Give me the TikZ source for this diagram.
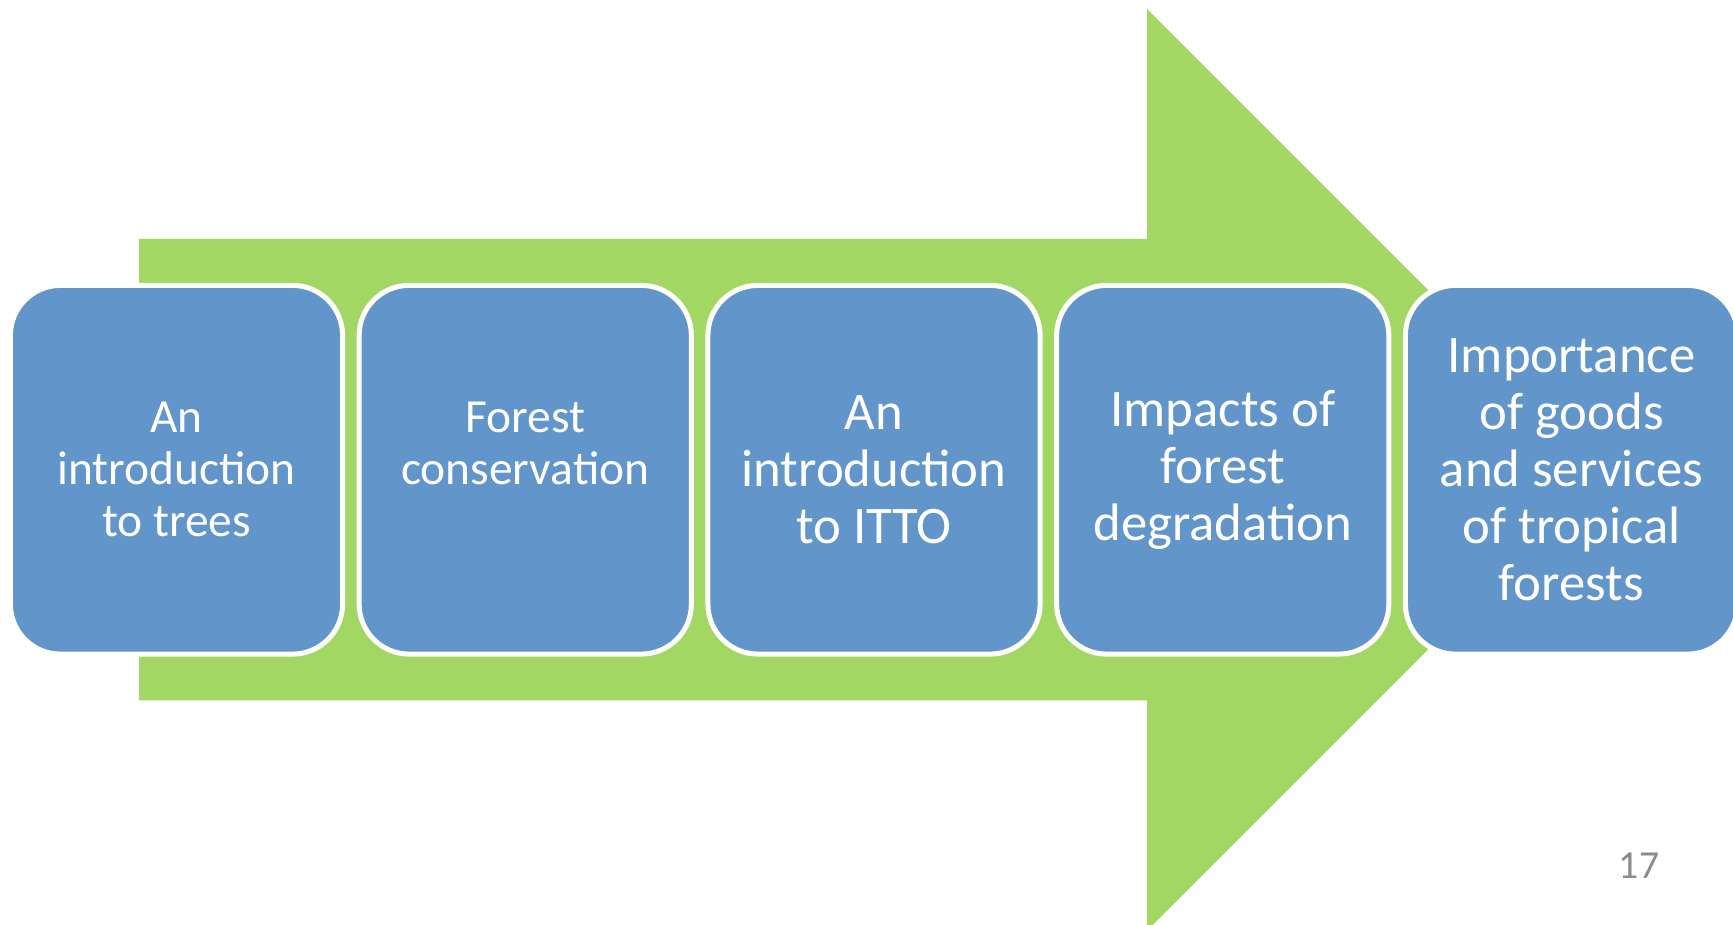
\documentclass[tikz,border=0pt]{standalone}
\usepackage{fontspec}
\setmainfont{Carlito}
\usetikzlibrary{positioning}
\definecolor{arrowgreen}{RGB}{163,215,99}
\definecolor{stageblue}{RGB}{98,149,201}
\definecolor{pagegray}{RGB}{140,140,140}
\newcommand{\bigtxt}{\fontsize{15pt}{16.2pt}\selectfont}
\newcommand{\smalltxt}{\fontsize{13.5pt}{14.8pt}\selectfont}

\begin{document}
\begin{tikzpicture}[x=0.01cm,y=-0.01cm]
\tikzstyle{stage}=[rectangle, rounded corners=0.5cm, minimum width=3.32cm, minimum height=3.685cm, inner sep=0pt, outer sep=0pt, fill=stageblue, draw=white, line width=1.42pt, text=white, align=center, font=\bigtxt]
\tikzstyle{small}=[font=\smalltxt]
\tikzstyle{arrow}=[fill=arrowgreen]
\tikzstyle{pagenum}=[text=pagegray, font=\fontsize{11.3pt}{13pt}\selectfont]

\useasboundingbox (0,0) rectangle (1733,925);
\clip (0,0) rectangle (1733,925);

% big arrow behind the stages
\path[arrow] (139,239) -- (1147,239) -- (1147,9) -- (1607.75,469.75) -- (1147,930.5) -- (1147,700.5) -- (139,700.5) -- cycle;

\node[stage,small] (trees) at (176.5,469.75) {An\\introduction\\to trees};
\node[stage,small] (conserv) at (525.25,469.75) {Forest\\conservation\\\mbox{}};
\node[stage] (itto) at (874,469.75) {An\\introduction\\to ITTO};
\node[stage] (degrad) at (1222.75,469.75) {Impacts of\\forest\\degradation};
\node[stage] (goods) at (1571.5,469.75) {Importance\\of goods\\and services\\of tropical\\forests};

\node[pagenum] (page) at (1639,866) {17};

\end{tikzpicture}
\end{document}
